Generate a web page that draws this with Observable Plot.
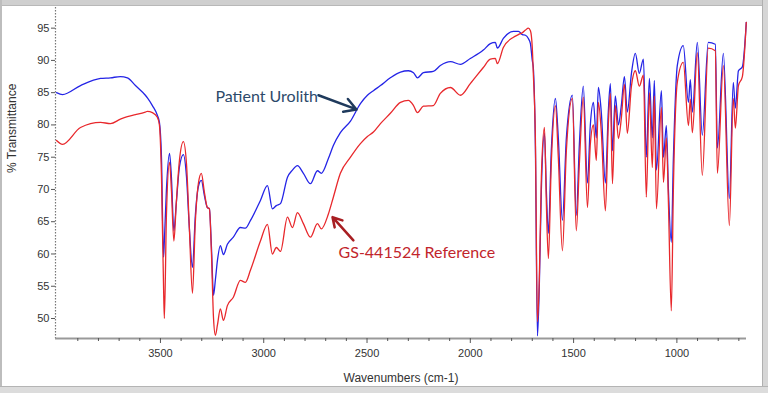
<!DOCTYPE html>
<html><head><meta charset="utf-8">
<script src="https://cdn.jsdelivr.net/npm/d3@7"></script>
<script src="https://cdn.jsdelivr.net/npm/@observablehq/plot@0.6"></script>
<style>
body{margin:0;background:#fff;}
#wrap{position:relative;width:768px;height:393px;overflow:hidden;background:#fff;}
.fr{position:absolute;pointer-events:none;}
</style></head><body><div id="wrap"></div>
<script>
const wavenumber = [4003,3974,3887,3790,3742,3694,3660,3621,3573,3563,3539,3515,3505,3495,3485,3481,3471,3456,3447,3435,3423,3408,3389,3374,3360,3345,3331,3316,3302,3287,3273,3263,3253,3243,3234,3224,3210,3195,3176,3147,3113,3089,3064,3016,2982,2958,2939,2919,2885,2861,2837,2808,2774,2740,2721,2687,2663,2629,2580,2532,2498,2469,2435,2387,2338,2300,2275,2256,2227,2179,2145,2096,2048,2000,1937,1903,1879,1869,1840,1791,1767,1748,1733,1719,1709,1700,1695,1685,1675,1666,1656,1641,1632,1622,1608,1588,1574,1554,1535,1506,1487,1472,1453,1433,1419,1404,1390,1380,1366,1346,1332,1322,1312,1298,1283,1269,1254,1240,1220,1201,1182,1162,1148,1133,1119,1109,1099,1075,1065,1051,1041,1027,1017,998,969,944,935,925,901,877,848,814,804,775,746,727,717,702,683,664];
const urolith = [85.0,84.7,86.1,87.2,87.3,87.5,87.3,86.1,84.6,84.2,83.0,81.5,80.4,75,59.5,62,70,75.6,72,63.6,68,73.5,75.4,72,64,57.9,66,70.5,71.4,69,67.2,67,61,53.6,56,59,61.3,59.9,61.5,62.6,64.1,64.0,65.2,68.3,70.6,67.0,67.5,67.8,71.9,73.0,73.7,72.5,70.9,72.9,72.5,74.8,76.8,78.8,80.6,83.3,84.6,85.3,86.1,87.3,88.2,88.4,88.1,87.3,88.1,88.3,89.2,89.8,89.4,90.3,91.6,92.6,92.8,91.9,93.4,94.5,94.5,94.0,93.9,93.4,92.6,90.0,88.9,76.8,47.3,55,70,78.7,70,63.2,76,84.1,78,65.2,78,84.6,66,77,86.0,71,80,83.5,78,85.8,82,71,82,86.4,76,84.5,80,83,87.5,82,88,91.1,88,90.2,75,87.2,78,86.9,73,85.3,75,79.9,70,61.8,74.8,89.2,92.3,83.5,87,82,92.8,78.4,92.8,92.5,76.4,91.1,68.6,86.6,82.6,88.4,89,95.9];
const reference = [77.6,77.0,79.6,80.4,80.2,80.9,81.3,81.6,82.0,82.1,81.9,81.2,80.0,72,55,50,66,74.2,70,62,68,74.5,77.4,74,64,53.9,65,71,72.5,69.5,67.2,67,60,50,47.4,49,51.5,49.7,52,53.3,55.9,55.6,57.5,62.0,64.6,60.0,61.0,60.4,65.7,64.1,66.4,64.7,62.6,64.7,63.9,66.2,68.8,72.5,75.0,77.1,78.2,78.9,80.2,81.8,83.5,83.8,83.0,81.9,82.9,83.0,84.9,85.8,84.6,86.4,88.9,90.2,90.3,89.5,92.0,93.6,94.0,94.3,94.7,95.0,94.6,92.0,88.0,78.0,49.5,56,72,79.6,68,59.3,74,83.0,75,60.5,76,84.1,63.6,74,84.3,67.2,77,80,74.5,83.5,79,66.7,80,84.9,70.9,83,77.9,81,86.3,78.7,86,88.4,86,87.7,68.8,85.0,73.4,84.5,67.0,82.7,71.1,78,68,51.2,70,86.6,89.7,79.9,84,78.8,91.2,72.2,91.9,91.5,72.5,89.2,64.4,84.1,79.5,86.1,87.5,95.9];
const xTicks = [3500,3000,2500,2000,1500,1000];
const xMinorTicks = [3900,3800,3700,3600,3400,3300,3200,3100,2900,2800,2700,2600,2400,2300,2200,2100,1900,1800,1700,1600,1400,1300,1200,1100,900,800,700];
const yTicks = [50,55,60,65,70,75,80,85,90,95];
const seriesNames = ["Patient Urolith","GS-441524 Reference"];

const rows = wavenumber.map((w,i)=>({w, u: urolith[i], r: reference[i]}));
const xDom = [4008, 663];
const yDom = [46.9, 98.2];
const narrow = "'Liberation Sans Narrow','Arial Narrow','Liberation Sans',sans-serif";
const anno = "Lato,'Open Sans',sans-serif";

const chart = Plot.plot({
  width: 768, height: 393,
  marginLeft: 55, marginRight: 22, marginTop: 7, marginBottom: 55,
  x: {domain: xDom, label: null},
  y: {domain: yDom, label: null},
  style: {background: "transparent", fontFamily: narrow, fontSize: "11px", color: "#333"},
  marks: [
    Plot.ruleX([xDom[0]], {stroke: "#777", strokeDasharray: "1.5,1.5", strokeWidth: 1.2}),
    Plot.ruleY([yDom[0]], {stroke: "#999", strokeWidth: 2}),
    Plot.axisX(xMinorTicks, {tickSize: 3, text: null, stroke: "#555"}),
    Plot.axisX(xTicks, {tickSize: 5, tickPadding: 6, stroke: "#555", fill: "#333", tickFormat: d => String(d)}),
    Plot.axisY(yTicks, {tickSize: 4, tickPadding: 2, stroke: "#555", fill: "#333", tickFormat: d => String(d)}),
    Plot.line(rows, {x: "w", y: "u", stroke: "#2424e6", strokeWidth: 1.3, curve: "monotone-x"}),
    Plot.line(rows, {x: "w", y: "r", stroke: "#e8282c", strokeWidth: 1.3, curve: "monotone-x"}),
    Plot.text([seriesNames[0]], {x: 3234, y: 84.3, text: d => d, textAnchor: "start", lineAnchor: "middle", fill: "#2d4a6a", fontSize: 16, fontFamily: anno}),
    Plot.arrow([0], {x1: 2735, y1: 84.6, x2: 2551, y2: 82.4, stroke: "#1f3a5c", strokeWidth: 2.5, headLength: 9}),
    Plot.text([seriesNames[1]], {x: 2638, y: 60.1, text: d => d, textAnchor: "start", lineAnchor: "middle", fill: "#c2252b", fontSize: 16, fontFamily: anno}),
    Plot.arrow([0], {x1: 2566, y1: 62.1, x2: 2667, y2: 65.7, stroke: "#a81e22", strokeWidth: 2.5, headLength: 9}),
    Plot.text(["Wavenumbers (cm-1)"], {frameAnchor: "bottom", dy: 40, lineAnchor: "middle", fontSize: 12, fill: "#333"}),
    Plot.text(["% Transmittance"], {frameAnchor: "left", dx: -43, rotate: -90, lineAnchor: "middle", fontSize: 12, fill: "#333"})
  ]
});
const wrap = document.getElementById("wrap");
wrap.appendChild(chart);
const frames = [
  "left:0;top:0;width:768px;height:5px;background:#cfcfcf;border-bottom:1px solid #b8b8b8;",
  "left:0;top:0;width:2px;height:393px;background:#bdbdbd;",
  "left:762px;top:0;width:6px;height:393px;background:#d6d6d6;border-left:1px solid #b0b0b0;",
  "left:0;top:386px;width:768px;height:7px;background:#dcdcdc;border-top:1px solid #b4b4b4;"
];
for (const s of frames) { const d = document.createElement("div"); d.className = "fr"; d.style.cssText = s; wrap.appendChild(d); }
</script></body></html>
